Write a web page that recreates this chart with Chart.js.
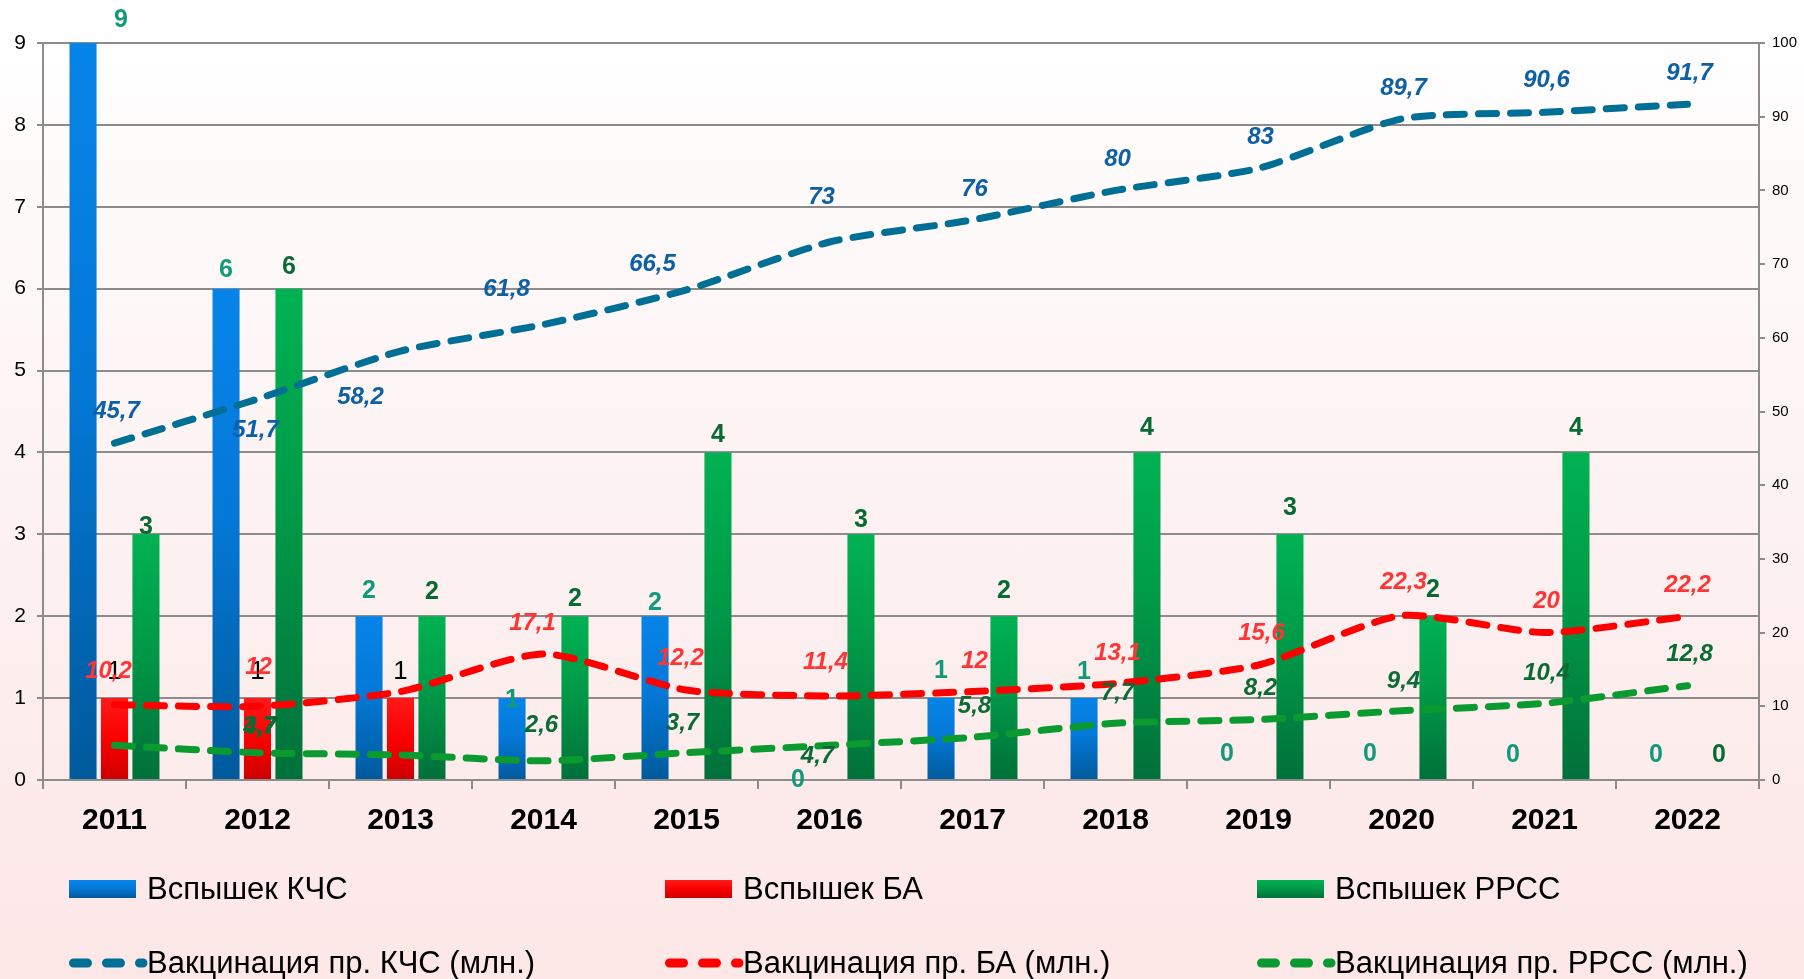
<!DOCTYPE html>
<html>
<head>
<meta charset="utf-8">
<script src="https://cdn.jsdelivr.net/npm/chart.js@4/dist/chart.umd.min.js"></script>
<style>
  html, body { margin: 0; padding: 0; }
  body { background: linear-gradient(to bottom, #ffffff 0%, #fdf1f1 55%, #fde7e7 100%); }
  #wrap { width: 1804px; height: 979px; position: relative; }
</style>
</head>
<body>
<div id="wrap"><canvas id="chart"></canvas></div>
<script>
// categories
const years = ['2011','2012','2013','2014','2015','2016','2017','2018','2019','2020','2021','2022'];

// outbreaks (left axis)
const outbreaksKCS  = [9, 6, 2, 1, 2, 0, 1, 1, 0, 0, 0, 0];
const outbreaksBA   = [1, 1, 1, 0, 0, 0, 0, 0, 0, 0, 0, 0];
const outbreaksRRSS = [3, 6, 2, 2, 4, 3, 2, 4, 3, 2, 4, 0];

// vaccinations, mln (right axis)
const vaccKCS  = [45.7, 51.7, 58.2, 61.8, 66.5, 73, 76, 80, 83, 89.7, 90.6, 91.7];
const vaccBA   = [10.2, 10, 12, 17.1, 12.2, 11.4, 12, 13.1, 15.6, 22.3, 20, 22.2];
const vaccRRSS = [4.7, 3.7, 3.4, 2.6, 3.7, 4.7, 5.8, 7.7, 8.2, 9.4, 10.4, 12.8];

// axis ranges
const leftMax = 9, leftStep = 1;
const rightMax = 100, rightStep = 10;

// label nudges [dx, dy] from bar top / point, null = no label
const posKCS  = [[38,-23],[0,-19],[0,-25],[0,2],[0,-13],[0,0],[0,-27],[0,-26],[0,-26],[0,-26],[0,-25],[0,-25]];
const posBA   = [[0,-26],[0,-26],[0,-26],null,null,null,null,null,null,null,null,null];
const posRRSS = [[0,-7],[0,-22],[0,-24],[0,-17],[0,-17],[0,-14],[0,-25],[0,-24],[0,-26],[0,-26],[0,-24],[0,-25]];
const posVKCS  = [[2,-32],[-2,31],[-40,46],[-37,-35],[-34,-26],[-8,-45],[2,-31],[2,-31],[2,-31],[2,-31],[2,-32],[2,-31]];
const posVBA   = [[-6,-33],null,[-142,-24],[-11,-31],[-6,-32],[-4,-34],[2,-30],[2,-30],[3,-32],[2,-33],[2,-31],[0,-31]];
const posVRRSS = [[146,-18],[2,-26],null,[-2,-35],[-4,-29],[-12,11],[2,-31],[2,-30],[2,-31],[2,-29],[2,-30],[2,-31]];

const FONT = "'Liberation Sans', Arial, sans-serif";

const blueStops  = [[0,'#0784e8'],[0.45,'#0479d8'],[1,'#005a9c']];
const redStops   = [[0,'#ff1a1a'],[0.5,'#fb0000'],[1,'#cc0000']];
const greenStops = [[0,'#00b252'],[0.45,'#009a48'],[1,'#00703a']];

function barFill(stops) {
  return function(c) {
    const ch = c.chart;
    if (!ch.chartArea || c.type !== 'data') return stops[0][1];
    const y = ch.scales.y;
    const top = y.getPixelForValue(c.raw), bot = y.getPixelForValue(0);
    if (bot - top < 1) return stops[0][1];
    const g = ch.ctx.createLinearGradient(0, top, 0, bot);
    stops.forEach(s => g.addColorStop(s[0], s[1]));
    return g;
  };
}

const fmt = v => String(v).replace('.', ',');

function barSet(label, data, stops, pos, lblColor, lblFont) {
  return {
    type: 'bar', label, data, yAxisID: 'y', order: 2,
    backgroundColor: barFill(stops), borderWidth: 0,
    categoryPercentage: 0.66, barPercentage: 0.86,
    _stops: stops, _pos: pos, _lblColor: lblColor, _lblFont: lblFont
  };
}
function lineSet(label, data, color, pos, lblColor) {
  return {
    type: 'line', label, data, yAxisID: 'y1', order: 1,
    borderColor: color, borderWidth: 7, borderDash: [18, 14], borderCapStyle: 'round',
    borderJoinStyle: 'round', tension: 0.22, pointRadius: 0, fill: false,
    _pos: pos, _lblColor: lblColor, _lblFont: 'italic bold 24px ' + FONT
  };
}

const labelsPlugin = {
  id: 'valueLabels',
  afterDatasetsDraw(chart) {
    const ctx = chart.ctx;
    ctx.save();
    ctx.textAlign = 'center';
    ctx.textBaseline = 'middle';
    chart.data.datasets.forEach((ds, i) => {
      const meta = chart.getDatasetMeta(i);
      ctx.font = ds._lblFont;
      ctx.fillStyle = ds._lblColor;
      meta.data.forEach((el, j) => {
        const p = ds._pos[j];
        if (!p) return;
        ctx.fillText(fmt(ds.data[j]), el.x + p[0], el.y + p[1]);
      });
    });
    ctx.restore();
  }
};

const legendPlugin = {
  id: 'gridLegend',
  afterDraw(chart) {
    const ctx = chart.ctx;
    const cols = [69, 665, 1257], rows = [889, 963];
    ctx.save();
    ctx.textAlign = 'left';
    ctx.textBaseline = 'middle';
    chart.data.datasets.forEach((ds, i) => {
      const x = cols[i % 3], y = rows[Math.floor(i / 3)];
      if (ds.type === 'bar') {
        const g = ctx.createLinearGradient(0, y - 9, 0, y + 9);
        ds._stops.forEach(s => g.addColorStop(s[0], s[1]));
        ctx.fillStyle = g;
        ctx.fillRect(x, y - 9, 67, 18);
      } else {
        ctx.strokeStyle = ds.borderColor;
        ctx.lineWidth = 9;
        ctx.lineCap = 'round';
        ctx.setLineDash([14, 19]);
        ctx.beginPath();
        ctx.moveTo(x + 4.5, y);
        ctx.lineTo(x + 74, y);
        ctx.stroke();
        ctx.setLineDash([]);
      }
      ctx.fillStyle = '#000';
      ctx.font = '31px ' + FONT;
      ctx.fillText(ds.label, x + 78, y + 1);
    });
    ctx.restore();
  }
};

new Chart(document.getElementById('chart').getContext('2d'), {
  data: {
    labels: years,
    datasets: [
      barSet('Вспышек КЧС', outbreaksKCS, blueStops, posKCS, '#119a78', 'bold 25px ' + FONT),
      barSet('Вспышек БА', outbreaksBA, redStops, posBA, '#000000', '26px ' + FONT),
      barSet('Вспышек РРСС', outbreaksRRSS, greenStops, posRRSS, '#086b34', 'bold 25px ' + FONT),
      lineSet('Вакцинация пр. КЧС (млн.)', vaccKCS, '#006f96', posVKCS, '#0d5fa6'),
      lineSet('Вакцинация пр. БА (млн.)', vaccBA, '#ff0000', posVBA, '#ff3535'),
      lineSet('Вакцинация пр. РРСС (млн.)', vaccRRSS, '#0a9a30', posVRRSS, '#0b6b35')
    ]
  },
  options: {
    responsive: true,
    maintainAspectRatio: false,
    animation: false,
    layout: { padding: { top: 43, bottom: 139, left: 0, right: 0 } },
    plugins: { legend: { display: false }, tooltip: { enabled: false } },
    scales: {
      x: {
        offset: true,
        grid: { display: true, drawOnChartArea: false, offset: true, color: '#8c8c8c', lineWidth: 2, tickLength: 9 },
        border: { color: '#8c8c8c', width: 2 },
        ticks: { color: '#000', font: { family: FONT, size: 30, weight: 'bold' }, padding: 14 },
        afterFit(s) { s.height = 60; }
      },
      y: {
        position: 'left', min: 0, max: leftMax,
        ticks: { stepSize: leftStep, color: '#000', font: { family: FONT, size: 21 }, padding: 11 },
        grid: { color: '#8c8c8c', lineWidth: 2, tickLength: 6 },
        border: { color: '#8c8c8c', width: 2 },
        afterFit(s) { s.width = 43; }
      },
      y1: {
        position: 'right', min: 0, max: rightMax,
        ticks: { stepSize: rightStep, color: '#000', font: { family: FONT, size: 15 }, padding: 7 },
        grid: { drawOnChartArea: false, color: '#8c8c8c', lineWidth: 2, tickLength: 6 },
        border: { color: '#8c8c8c', width: 2 },
        afterFit(s) { s.width = 45; }
      }
    }
  },
  plugins: [labelsPlugin, legendPlugin]
});
</script>
</body>
</html>
